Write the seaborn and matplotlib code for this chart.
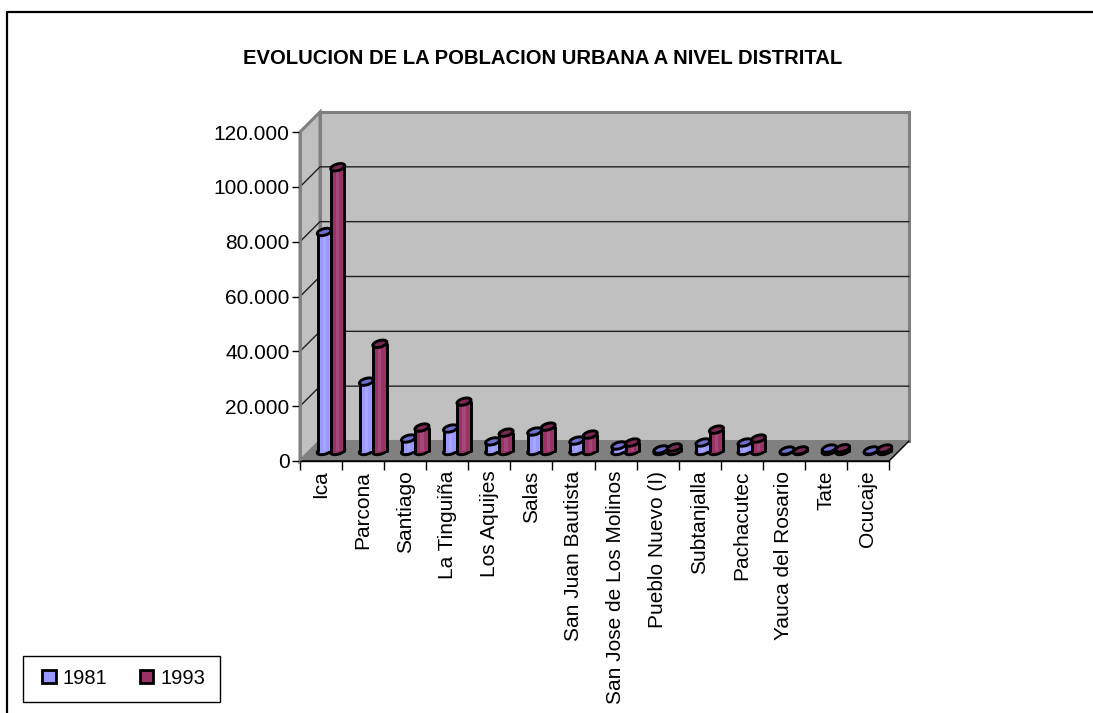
import numpy as np
import pandas as pd
import matplotlib
matplotlib.use("Agg")
import matplotlib.pyplot as plt
import seaborn as sns
from matplotlib.patches import Polygon, Ellipse, Rectangle
from matplotlib.lines import Line2D
from matplotlib.transforms import IdentityTransform
from matplotlib.colors import to_hex

# data
districts = ["Ica", "Parcona", "Santiago", "La Tinguiña", "Los Aquijes", "Salas",
             "San Juan Bautista", "San Jose de Los Molinos", "Pueblo Nuevo (I)",
             "Subtanjalla", "Pachacutec", "Yauca del Rosario", "Tate", "Ocucaje"]
pop_1981 = [79900, 25300, 4550, 8200, 3500, 7100, 3800, 2000, 550, 3100, 3100, 150, 900, 200]
pop_1993 = [103500, 39100, 8550, 18000, 6700, 8900, 6000, 3100, 1270, 7800, 4550, 200, 1000, 900]
y_ticks = [0, 20000, 40000, 60000, 80000, 100000, 120000]
y_labels = ["0", "20.000", "40.000", "60.000", "80.000", "100.000", "120.000"]

W, H = 1093, 713
BLUE, RED = "#9999FF", "#993366"
BLUE_TOP, RED_TOP = "#6F6FD0", "#7A2952"
BLUE_HI, RED_HI = "#A6A6FF", "#A3487A"
FONT = "Liberation Sans"

sns.set_theme(style="white")
plt.rcParams["font.family"] = [FONT, "DejaVu Sans"]

df = pd.DataFrame({
    "district": districts * 2,
    "pop": pop_1981 + pop_1993,
    "year": ["1981"] * len(districts) + ["1993"] * len(districts),
})

fig = plt.figure(figsize=(W / 100, H / 100), dpi=100, facecolor="white")
# outer frame, only top and left are inside the picture
fig.add_artist(Line2D([7 / W, 7 / W, 1], [0, (H - 12) / H, (H - 12) / H], transform=fig.transFigure,
                      color="black", linewidth=1.6))

# front plane of the 3d box, in pixels
left, right, top, bottom = 300, 889, 132, 461
ax = fig.add_axes([left / W, (H - bottom) / H, (right - left) / W, (bottom - top) / H])
sns.barplot(data=df, x="district", y="pop", hue="year", order=districts,
            palette=[BLUE, RED], width=0.64, gap=0, dodge=True, ax=ax, legend=False,
            linewidth=0, saturation=1)
bars = [b for c in ax.containers for b in c]
bars.sort(key=lambda b: b.get_x())

ax.set_xlim(-0.5, len(districts) - 0.5)
ax.set_ylim(0, 120000)
ax.patch.set_visible(False)
ax.set_xlabel("")
ax.set_ylabel("")
for s in ["top", "right"]:
    ax.spines[s].set_visible(False)
ax.spines["left"].set_color("#808080")
ax.spines["left"].set_linewidth(2)
ax.spines["bottom"].set_color("black")
ax.spines["bottom"].set_linewidth(1)

ax.set_yticks(y_ticks)
ax.set_yticklabels(y_labels, fontsize=15, color="black")
ax.set_xticks(np.arange(-0.5, len(districts)))
ax.set_xticklabels([])
ax.set_xticks(np.arange(len(districts)), minor=True)
ax.set_xticklabels(districts, minor=True, rotation=90, fontsize=15, color="black", ha="center", va="top")
ax.tick_params(axis="y", length=6, width=1, color="black", pad=1.5, left=True)
ax.tick_params(axis="x", which="major", length=6.5, width=1, color="black", bottom=True)
ax.tick_params(axis="x", which="minor", length=0, pad=7, bottom=True)

fig.canvas.draw()
DEPTH = 20
to_px = ax.transData.transform
px = IdentityTransform()

# walls and floor
x0, x1 = -0.5, len(districts) - 0.5
(fl, fb) = to_px((x0, 0))
(fr, ft) = to_px((x1, 120000))
wall_kw = dict(transform=px, clip_on=False)
ax.add_patch(Polygon([(fl + DEPTH, fb + DEPTH), (fr + DEPTH, fb + DEPTH), (fr + DEPTH, ft + DEPTH), (fl + DEPTH, ft + DEPTH)],
                     facecolor="#C0C0C0", edgecolor="#808080", linewidth=2.2, zorder=0.1, **wall_kw))
ax.add_patch(Polygon([(fl, fb), (fl + DEPTH, fb + DEPTH), (fl + DEPTH, ft + DEPTH), (fl, ft)],
                     facecolor="#C0C0C0", edgecolor="#808080", linewidth=2.2, zorder=0.2, **wall_kw))
ax.add_patch(Polygon([(fl, fb), (fr, fb), (fr + DEPTH, fb + DEPTH), (fl + DEPTH, fb + DEPTH)],
                     facecolor="#808080", edgecolor="#808080", linewidth=0.5, zorder=0.3, **wall_kw))
ax.add_line(Line2D([fl, fr, fr + DEPTH], [fb, fb, fb + DEPTH], color="black", linewidth=1,
                   transform=px, zorder=0.4, clip_on=False))

# gridlines across side and back wall
for t in y_ticks[1:-1]:
    _, yy = to_px((x0, t))
    ax.add_line(Line2D([fl, fl + DEPTH, fr + DEPTH], [yy, yy + DEPTH, yy + DEPTH], color="#202020",
                       linewidth=1, transform=px, zorder=0.5, clip_on=False))

# turn the flat bars into cylinders, half way into the box
z = 2
LW = 2.1
for p in bars:
    is_blue = to_hex(p.get_facecolor()).upper() == BLUE.upper()
    top_col = BLUE_TOP if is_blue else RED_TOP
    hi_col = BLUE_HI if is_blue else RED_HI
    body_col = BLUE if is_blue else RED
    (xa, ya) = to_px((p.get_x(), 0)) + DEPTH / 2
    (xb, yb) = to_px((p.get_x() + p.get_width(), p.get_height())) + DEPTH / 2
    xm = (xa + xb) / 2
    w = xb - xa
    p.set_visible(False)
    ell = dict(width=w + 1, height=6.5, angle=16, edgecolor="black", linewidth=LW, transform=px, clip_on=False)
    ax.add_patch(Ellipse((xm, ya), facecolor=body_col, zorder=z, **ell))
    ax.add_patch(Rectangle((xa, ya), w, yb - ya, facecolor=body_col, edgecolor="none", transform=px,
                           clip_on=False, zorder=z + 0.1))
    ax.add_patch(Rectangle((xm - w * 0.12, ya), w * 0.24, yb - ya, facecolor=hi_col, edgecolor="none",
                           transform=px, clip_on=False, zorder=z + 0.2))
    ax.add_line(Line2D([xa, xa], [ya, yb], color="black", linewidth=LW, transform=px, clip_on=False, zorder=z + 0.3))
    ax.add_line(Line2D([xb, xb], [ya, yb], color="black", linewidth=LW, transform=px, clip_on=False, zorder=z + 0.3))
    ax.add_patch(Ellipse((xm, yb), facecolor=top_col, zorder=z + 0.4, **ell))
    z += 1

fig.text(542.5 / W, (H - 58.5) / H, "EVOLUCION DE LA POBLACION URBANA A NIVEL DISTRITAL",
         fontsize=14.6, fontweight="bold", ha="center", va="center", color="black")

# legend box is drawn on its own so it can sit at the exact spot
fig.add_artist(Rectangle((23 / W, (H - 702) / H), 197 / W, 46 / H, transform=fig.transFigure,
                         facecolor="white", edgecolor="black", linewidth=1))
handles = [Rectangle((0, 0), 1, 1, facecolor=BLUE, edgecolor="black", linewidth=2),
           Rectangle((0, 0), 1, 1, facecolor=RED, edgecolor="black", linewidth=2)]
leg = fig.legend(handles, ["1981", "1993"], ncol=2, loc="center left",
                 bbox_to_anchor=(42 / W, (H - 678) / H), fontsize=14.5, frameon=False,
                 borderpad=0, handlelength=0.68, handleheight=0.68,
                 handletextpad=0.35, columnspacing=1.6, borderaxespad=0, labelcolor="black")

fig.savefig("out.png", dpi=100)
